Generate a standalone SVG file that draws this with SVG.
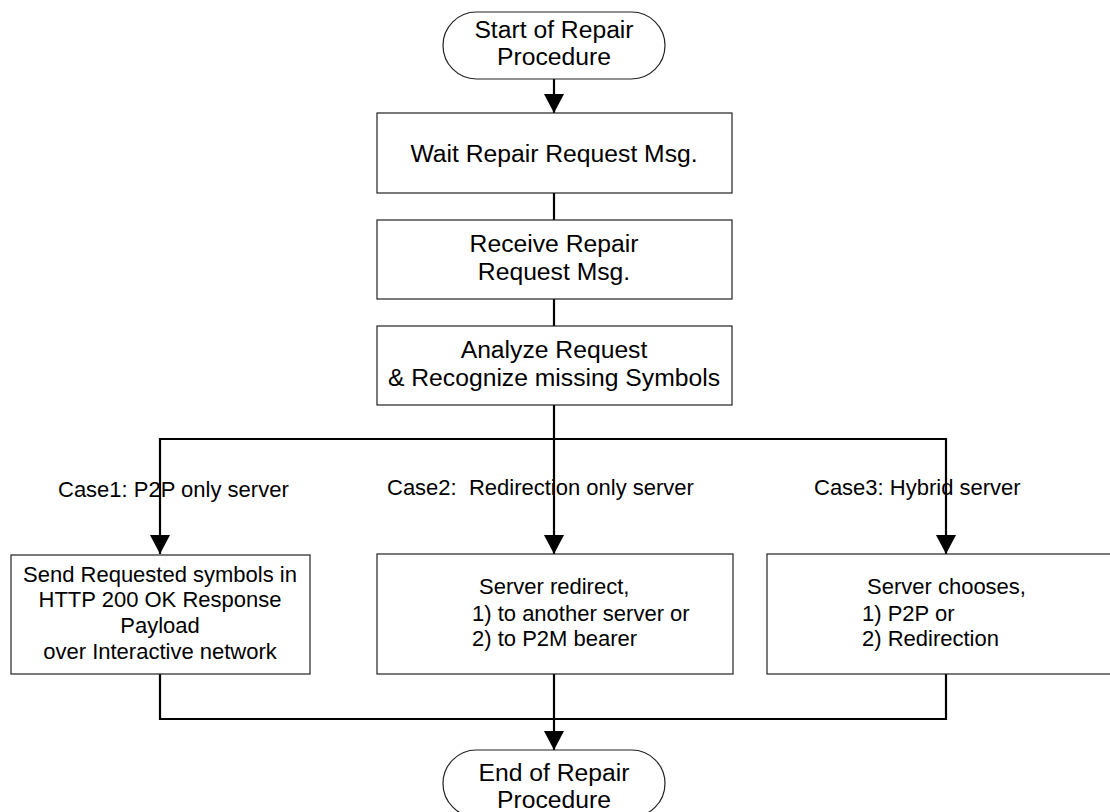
<svg xmlns="http://www.w3.org/2000/svg" width="1110" height="812" viewBox="0 0 1110 812">
<style>
.box{fill:#fff;stroke:#222;stroke-width:1.2}
.t{font-family:"Liberation Sans",Arial,sans-serif;fill:#000}
.big{font-size:24.7px}
.mid{font-size:22px}
.c{stroke:#000;stroke-width:2.2;fill:none}
</style>
<defs>
<marker id="ah" markerUnits="userSpaceOnUse" markerWidth="19" markerHeight="20" refX="19" refY="10" orient="auto" viewBox="0 0 19 20">
<path d="M0,0 L19,10 L0,20 Z" fill="#000"/>
</marker>
</defs>
<rect width="1110" height="812" fill="#fff"/>
<g id="connectors">
<line class="c" x1="554" y1="79" x2="554" y2="113" marker-end="url(#ah)"/>
<line class="c" x1="554" y1="193" x2="554" y2="220"/>
<line class="c" x1="554" y1="299" x2="554" y2="326"/>
<line class="c" x1="554" y1="405" x2="554" y2="439"/>
<line class="c" x1="159" y1="439" x2="947" y2="439"/>
<line class="c" x1="160" y1="438" x2="160" y2="554" marker-end="url(#ah)"/>
<line class="c" x1="554" y1="439" x2="554" y2="554" marker-end="url(#ah)"/>
<line class="c" x1="946" y1="438" x2="946" y2="554" marker-end="url(#ah)"/>
<line class="c" x1="160" y1="674" x2="160" y2="720"/>
<line class="c" x1="554" y1="674" x2="554" y2="750" marker-end="url(#ah)"/>
<line class="c" x1="946" y1="674" x2="946" y2="720"/>
<line class="c" x1="159" y1="719" x2="947" y2="719"/>
</g>
<g id="start">
<rect class="box" x="443" y="12" width="222" height="67" rx="33.5" ry="33.5"/>
<text class="t big" x="554" y="38" text-anchor="middle">Start of Repair</text>
<text class="t big" x="554" y="65" text-anchor="middle">Procedure</text>
</g>
<g id="wait">
<rect class="box" x="377" y="113" width="355" height="80"/>
<text class="t big" x="554" y="162" text-anchor="middle">Wait Repair Request Msg.</text>
</g>
<g id="receive">
<rect class="box" x="377" y="220" width="355" height="79"/>
<text class="t big" x="554" y="252" text-anchor="middle">Receive Repair</text>
<text class="t big" x="554" y="280" text-anchor="middle">Request Msg.</text>
</g>
<g id="analyze">
<rect class="box" x="377" y="326" width="355" height="79"/>
<text class="t big" x="554" y="358" text-anchor="middle">Analyze Request</text>
<text class="t big" x="554" y="386" text-anchor="middle">&amp; Recognize missing Symbols</text>
</g>
<g id="labels">
<text class="t mid" x="58" y="497">Case1: P2P only server</text>
<text class="t mid" x="387" y="495" xml:space="preserve">Case2:  Redirection only server</text>
<text class="t mid" x="814" y="495">Case3: Hybrid server</text>
</g>
<g id="case1">
<rect class="box" x="11" y="555" width="299" height="119"/>
<text class="t mid" x="160" y="582" text-anchor="middle">Send Requested symbols in</text>
<text class="t mid" x="160" y="607" text-anchor="middle">HTTP 200 OK Response</text>
<text class="t mid" x="160" y="633" text-anchor="middle">Payload</text>
<text class="t mid" x="160" y="659" text-anchor="middle">over Interactive network</text>
</g>
<g id="case2">
<rect class="box" x="377" y="554" width="356" height="120"/>
<text class="t mid" x="479" y="594">Server redirect,</text>
<text class="t mid" x="472" y="621">1) to another server or</text>
<text class="t mid" x="472" y="646">2) to P2M bearer</text>
</g>
<g id="case3">
<rect class="box" x="767" y="554" width="360" height="120"/>
<text class="t mid" x="867" y="594">Server chooses,</text>
<text class="t mid" x="862" y="621">1) P2P or</text>
<text class="t mid" x="862" y="646">2) Redirection</text>
</g>
<g id="end">
<rect class="box" x="443" y="750" width="222" height="67" rx="33.5" ry="33.5"/>
<text class="t big" x="554" y="781" text-anchor="middle">End of Repair</text>
<text class="t big" x="554" y="808" text-anchor="middle">Procedure</text>
</g>
</svg>
